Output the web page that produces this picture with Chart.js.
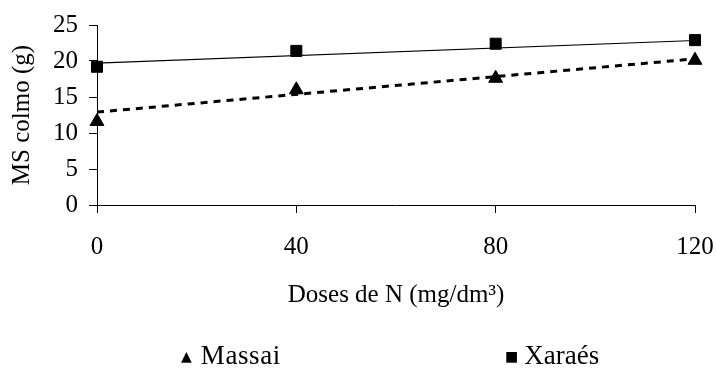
<!DOCTYPE html>
<html lang="pt">
<head>
<meta charset="UTF-8">
<title>MS colmo</title>
<script src="https://cdn.jsdelivr.net/npm/chart.js"></script>
<style>
    body {
        margin: 0;
        padding: 0;
        background: #fff;
    }
    .wrap {
        position: relative;
        width: 716px;
        height: 374px;
    }
    .legend {
        position: absolute;
        top: 337px;
        font-family: "Liberation Serif", "Times New Roman", serif;
        font-size: 27px;
        line-height: 36px;
        color: #000;
        white-space: nowrap;
    }
    .legend .mk {
        display: inline-block;
        font-family: "DejaVu Sans", sans-serif;
        font-size: 14px;
        vertical-align: 3px;
        margin-right: 6px;
    }
</style>
</head>
<body>
<div class="wrap">
    <canvas id="chart"></canvas>
    <div class="legend" style="left: 181px;"><span class="mk" style="margin-right: 9px;">&#9650;</span><span style="letter-spacing: 0.6px;">Massai</span></div>
    <div class="legend" style="left: 505px;"><span class="mk">&#9632;</span>Xaraés</div>
</div>

<script>
    // doses de N (mg/dm3)
    var doses = [0, 40, 80, 120];
    var massai = [11.6, 16.0, 17.6, 20.1];
    var xaraes = [19.2, 21.4, 22.4, 22.9];

    var trendX = [0, 120];
    var massaiTrend = [12.9, 20.3];
    var xaraesTrend = [19.7, 22.85];

    var xTicks = [0, 40, 80, 120];
    var yTicks = [0, 5, 10, 15, 20, 25];

    function toPoints(xs, ys) {
        return xs.map(function (x, i) { return { x: x, y: ys[i] }; });
    }

    var serif = 'Liberation Serif';

    var ctx = document.getElementById('chart').getContext('2d');
    new Chart(ctx, {
        type: 'scatter',
        data: {
            datasets: [
                {
                    label: 'Massai',
                    data: toPoints(doses, massai),
                    pointStyle: 'triangle',
                    pointRadius: 8,
                    backgroundColor: '#000',
                    borderColor: '#000',
                    borderWidth: 1,
                    showLine: false,
                    clip: false,
                    order: 0
                },
                {
                    label: 'Xaraés',
                    data: toPoints(doses, xaraes),
                    pointStyle: 'rect',
                    pointRadius: 7.8,
                    backgroundColor: '#000',
                    borderColor: '#000',
                    borderWidth: 1,
                    showLine: false,
                    clip: false,
                    order: 0
                },
                {
                    label: 'tend. Massai',
                    data: toPoints(trendX, massaiTrend),
                    showLine: true,
                    pointRadius: 0,
                    borderColor: '#000',
                    borderWidth: 3,
                    borderDash: [7, 6],
                    order: 1
                },
                {
                    label: 'tend. Xaraés',
                    data: toPoints(trendX, xaraesTrend),
                    showLine: true,
                    pointRadius: 0,
                    borderColor: '#000',
                    borderWidth: 1.2,
                    order: 1
                }
            ]
        },
        options: {
            responsive: true,
            maintainAspectRatio: false,
            animation: false,
            layout: {
                padding: { left: 0, top: 25, right: 21, bottom: 59 }
            },
            plugins: {
                legend: { display: false },
                tooltip: { enabled: false }
            },
            scales: {
                x: {
                    type: 'linear',
                    min: 0,
                    max: 120,
                    afterBuildTicks: function (axis) {
                        axis.ticks = xTicks.map(function (v) { return { value: v }; });
                    },
                    afterFit: function (axis) {
                        axis.height = 110;
                        axis.paddingLeft = 0;
                        axis.paddingRight = 0;
                    },
                    grid: {
                        drawOnChartArea: false,
                        drawTicks: true,
                        tickLength: 8,
                        color: '#000'
                    },
                    border: { display: true, color: '#000', width: 1 },
                    ticks: {
                        color: '#000',
                        padding: 19,
                        font: { family: serif, size: 25 }
                    },
                    title: {
                        display: true,
                        text: 'Doses de N (mg/dm³)',
                        color: '#000',
                        font: { family: serif, size: 25 },
                        padding: { top: 0, bottom: 5 }
                    }
                },
                y: {
                    min: 0,
                    max: 25,
                    afterBuildTicks: function (axis) {
                        axis.ticks = yTicks.map(function (v) { return { value: v }; });
                    },
                    afterFit: function (axis) {
                        axis.width = 97;
                        axis.paddingTop = 0;
                        axis.paddingBottom = 0;
                    },
                    grid: {
                        drawOnChartArea: false,
                        drawTicks: true,
                        tickLength: 8,
                        color: '#000'
                    },
                    border: { display: true, color: '#000', width: 1 },
                    ticks: {
                        color: '#000',
                        padding: 11,
                        font: { family: serif, size: 25 }
                    },
                    title: {
                        display: true,
                        text: 'MS colmo (g)',
                        color: '#000',
                        font: { family: serif, size: 25 },
                        padding: { top: 7, bottom: 0 }
                    }
                }
            }
        }
    });
</script>
</body>
</html>
